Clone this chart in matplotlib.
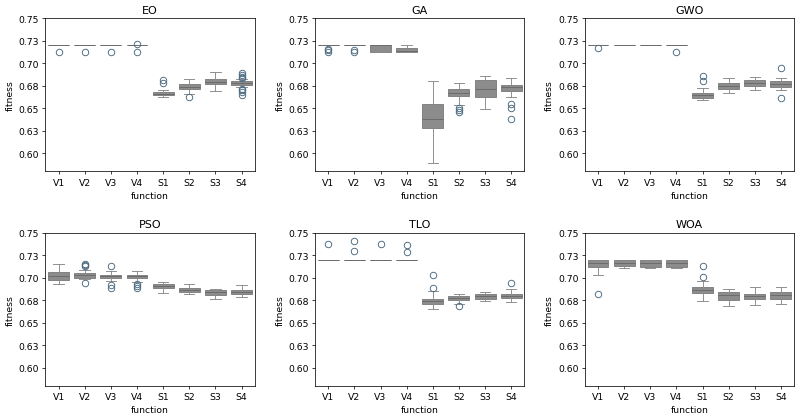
import numpy as np
import matplotlib
matplotlib.use("Agg")
import matplotlib.pyplot as plt

algorithms = ["EO", "GA", "GWO", "PSO", "TLO", "WOA"]
functions = ["V1", "V2", "V3", "V4", "S1", "S2", "S3", "S4"]

# box statistics, one row per algorithm
q1 = [
    [0.72, 0.72, 0.72, 0.72, 0.6644, 0.6715, 0.6767, 0.6763],
    [0.72, 0.72, 0.7126, 0.7126, 0.6278, 0.6633, 0.6626, 0.6689],
    [0.72, 0.72, 0.72, 0.72, 0.6619, 0.6719, 0.6748, 0.6741],
    [0.6978, 0.7000, 0.6996, 0.6996, 0.6881, 0.6844, 0.6807, 0.6819],
    [0.72, 0.72, 0.72, 0.72, 0.6711, 0.6748, 0.6767, 0.6774],
    [0.7122, 0.7130, 0.7119, 0.7122, 0.6826, 0.6756, 0.6767, 0.6763],
]
med = [
    [0.72, 0.72, 0.72, 0.72, 0.6660, 0.6740, 0.6790, 0.6780],
    [0.72, 0.72, 0.72, 0.7140, 0.6378, 0.6674, 0.6719, 0.6741],
    [0.72, 0.72, 0.72, 0.72, 0.6648, 0.6750, 0.6778, 0.6770],
    [0.7015, 0.7026, 0.7015, 0.7015, 0.6904, 0.6867, 0.6837, 0.6841],
    [0.72, 0.72, 0.72, 0.72, 0.6741, 0.6774, 0.6793, 0.6796],
    [0.7163, 0.7163, 0.7163, 0.7163, 0.6863, 0.6804, 0.6793, 0.6804],
]
q3 = [
    [0.72, 0.72, 0.72, 0.72, 0.6678, 0.6767, 0.6822, 0.6804],
    [0.72, 0.72, 0.72, 0.7170, 0.6544, 0.6719, 0.6811, 0.6756],
    [0.72, 0.72, 0.72, 0.72, 0.6674, 0.6786, 0.6811, 0.6800],
    [0.7063, 0.7052, 0.7033, 0.7030, 0.6930, 0.6889, 0.6863, 0.6867],
    [0.72, 0.72, 0.72, 0.72, 0.6767, 0.6793, 0.6815, 0.6819],
    [0.7196, 0.7200, 0.7200, 0.7200, 0.6900, 0.6844, 0.6815, 0.6844],
]
whislo = [
    [0.72, 0.72, 0.72, 0.72, 0.6622, 0.6663, 0.6696, 0.6735],
    [0.72, 0.72, 0.7126, 0.7126, 0.5897, 0.6533, 0.6496, 0.6630],
    [0.72, 0.72, 0.72, 0.72, 0.6589, 0.6674, 0.6704, 0.6704],
    [0.6933, 0.6981, 0.6959, 0.6952, 0.6830, 0.6815, 0.6767, 0.6789],
    [0.72, 0.72, 0.72, 0.72, 0.6656, 0.6711, 0.6741, 0.6730],
    [0.7033, 0.7111, 0.7111, 0.7111, 0.6741, 0.6685, 0.6696, 0.6711],
]
whishi = [
    [0.72, 0.72, 0.72, 0.72, 0.6708, 0.6822, 0.6904, 0.6825],
    [0.72, 0.72, 0.72, 0.72, 0.6800, 0.6786, 0.6863, 0.6837],
    [0.72, 0.72, 0.72, 0.72, 0.6726, 0.6837, 0.6852, 0.6837],
    [0.7152, 0.7085, 0.7074, 0.7074, 0.6956, 0.6930, 0.6870, 0.6915],
    [0.72, 0.72, 0.72, 0.72, 0.6848, 0.6815, 0.6841, 0.6878],
    [0.7200, 0.7200, 0.7200, 0.7200, 0.6963, 0.6874, 0.6896, 0.6896],
]
fliers = [
    [[0.7125], [0.7125], [0.7125], [0.7218, 0.7125], [0.6819, 0.6786], [0.6626], [],
     [0.689, 0.687, 0.685, 0.684, 0.672, 0.670, 0.668, 0.665]],
    [[0.7163, 0.7145, 0.713], [0.7145, 0.713], [], [], [], [0.6507, 0.6485, 0.6459], [],
     [0.6552, 0.6507, 0.6386]],
    [[0.717], [], [], [0.713], [0.6859, 0.6808], [], [], [0.6944, 0.6619]],
    [[], [0.7152, 0.7137, 0.713, 0.6941], [0.713, 0.6922, 0.6885], [0.693, 0.6904, 0.6885],
     [], [], [], []],
    [[0.737], [0.7407, 0.7296], [0.737], [0.7359, 0.7285], [0.7026, 0.6889], [0.6681], [],
     [0.6944]],
    [[0.6819], [], [], [], [0.7126, 0.7007], [], [], []],
]

ytick_vals = [0.6, 0.625, 0.65, 0.675, 0.7, 0.725, 0.75]
ytick_labels = ["0.60", "0.63", "0.65", "0.68", "0.70", "0.73", "0.75"]

fig, axes = plt.subplots(2, 3, figsize=(12, 6.3), dpi=66.5)
fig.subplots_adjust(left=0.057, right=0.995, top=0.954, bottom=0.077,
                    wspace=0.29, hspace=0.4)

for i, ax in enumerate(axes.flat):
    stats = []
    for j, f in enumerate(functions):
        stats.append(dict(label=f, q1=q1[i][j], med=med[i][j], q3=q3[i][j],
                          whislo=whislo[i][j], whishi=whishi[i][j],
                          fliers=fliers[i][j]))
    ax.bxp(stats, positions=np.arange(len(functions)), widths=0.8,
           capwidths=0.4, patch_artist=True,
           boxprops=dict(facecolor="#8c8c8c", edgecolor="#7f7f7f", linewidth=1.0),
           medianprops=dict(color="#6a6a6a", linewidth=1.0),
           whiskerprops=dict(color="#8a8a8a", linewidth=1.0),
           capprops=dict(color="#8a8a8a", linewidth=1.0),
           flierprops=dict(marker="o", markerfacecolor="none",
                           markeredgecolor="#4a6a80", markersize=7,
                           markeredgewidth=1.0))
    ax.set_xlim(-0.5, len(functions) - 0.5)
    ax.set_ylim(0.58, 0.75)
    ax.set_yticks(ytick_vals)
    ax.set_yticklabels(ytick_labels)
    ax.set_title(algorithms[i], fontsize=12)
    ax.set_xlabel("function")
    ax.set_ylabel("fitness")

fig.savefig("out.png", dpi=66.5)
